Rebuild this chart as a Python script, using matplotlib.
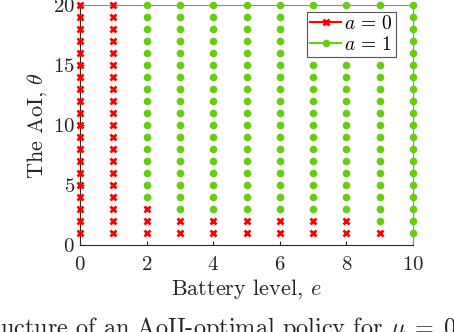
import numpy as np
import matplotlib
matplotlib.use("Agg")
import matplotlib.pyplot as plt
from matplotlib.lines import Line2D

plt.rcParams['font.family'] = 'serif'
plt.rcParams['font.serif'] = ['cmr10', 'DejaVu Serif']
plt.rcParams['mathtext.fontset'] = 'cm'
plt.rcParams['axes.formatter.use_mathtext'] = True

# Battery levels and AoI range
battery = [0, 1, 2, 3, 4, 5, 6, 7, 8, 9, 10]
aoi = list(range(1, 21))
# smallest AoI at which the optimal action is a = 1 (21 -> never)
switch_aoi = [21, 21, 4, 3, 3, 3, 3, 3, 3, 2, 1]

x_ticks = [0, 2, 4, 6, 8, 10]
y_ticks = [0, 5, 10, 15, 20]

red = '#ff0000'
green = '#66cc14'

# build the point sets for each action
e0, t0, e1, t1 = [], [], [], []
for e, s in zip(battery, switch_aoi):
    for t in aoi:
        if t < s:
            e0.append(e); t0.append(t)
        else:
            e1.append(e); t1.append(t)

fig = plt.figure(figsize=(4.54, 3.32), dpi=100)
ax = fig.add_axes([0.176, 0.262, 0.734, 0.723])

ax.plot(e0, t0, 'x', color=red, markersize=5, markeredgewidth=2, clip_on=False, zorder=3)
ax.plot(e1, t1, 'o', color=green, markersize=5.5, markeredgewidth=0, clip_on=False, zorder=3)

ax.set_xlim(0, 10)
ax.set_ylim(0, 20)
ax.set_xticks(x_ticks)
ax.set_yticks(y_ticks)
ax.tick_params(direction='in', length=3, labelsize=15, colors='#262626')
ax.tick_params(axis='x', pad=8)
ax.tick_params(axis='y', pad=3.5)
for side in ['left', 'bottom']:
    ax.spines[side].set_color('#262626')
    ax.spines[side].set_linewidth(0.8)
for side in ['top', 'right']:
    ax.spines[side].set_color('#8c8c8c')
    ax.spines[side].set_linewidth(0.8)

ax.set_xlabel(r'Battery level, $e$', fontsize=16, color='#262626', labelpad=2)
ax.set_ylabel(r'The AoI, $\theta$', fontsize=16, color='#262626', labelpad=3)

handles = [Line2D([], [], color=red, marker='x', markersize=5, markeredgewidth=2, lw=1.5),
           Line2D([], [], color=green, marker='o', markersize=5.5, markeredgewidth=0, lw=1.5)]
leg = ax.legend(handles, [r'$a\,=\,0$', r'$a\,=\,1$'], loc='upper right',
                bbox_to_anchor=(0.949, 0.971), fontsize=14, fancybox=False,
                framealpha=1, edgecolor='#555555', borderpad=0.15,
                handlelength=1.6, handletextpad=0.15, labelspacing=0.15, borderaxespad=0)
leg.get_frame().set_linewidth(0.8)

fig.text(0.0, -3 / 332, r'ucture of an AoII-optimal policy for $\mu\;=\;0.5$',
         fontsize=17.5, ha='left', va='baseline', color='#262626')

fig.savefig('out.png', dpi=100)
